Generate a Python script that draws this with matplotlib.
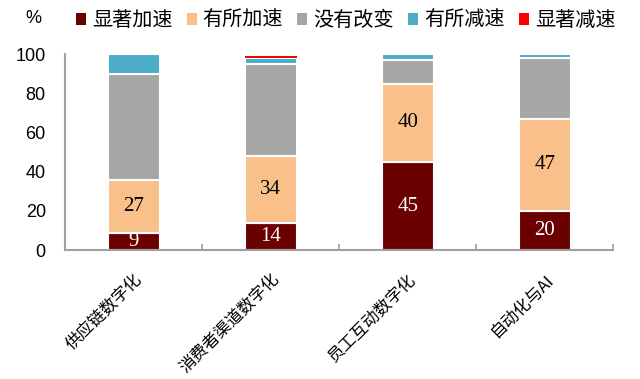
import matplotlib
matplotlib.use("Agg")
import matplotlib.pyplot as plt
from matplotlib.patches import Patch
import numpy as np

plt.rcParams['font.family'] = ['Noto Sans CJK SC', 'DejaVu Sans']

# 数据
categories = ['供应链数字化', '消费者渠道数字化', '员工互动数字化', '自动化与AI']
series_names = ['显著加速', '有所加速', '没有改变', '有所减速', '显著减速']
sig_up = [9, 14, 45, 20]
some_up = [27, 34, 40, 47]
no_change = [54, 47, 12, 31]
some_down = [10, 3, 3, 2]
sig_down = [0, 1, 0, 0]
colors = ['#6B0000', '#F9C08A', '#A6A6A6', '#4BACC6', '#FF0000']

series = [sig_up, some_up, no_change, some_down, sig_down]
labelled = {0: 'white', 1: 'black'}

fig = plt.figure(figsize=(6.4, 3.79), dpi=100)
ax = fig.add_axes([0.102, 0.34, 0.856, 0.517])

x = np.arange(len(categories))
bottom = np.zeros(len(categories))
for i, vals in enumerate(series):
    vals = np.array(vals, dtype=float)
    lw = 1.5 if i < 4 else 0
    ax.bar(x, vals, 0.38, bottom=bottom, color=colors[i],
           edgecolor='white', linewidth=lw, zorder=2 + i * 0.1)
    if i in labelled:
        for xi, b, v in zip(x, bottom, vals):
            ax.text(xi, b + v / 2, f'{int(v)}', ha='center', va='center',
                    fontsize=15, color=labelled[i], family='Liberation Serif',
                    zorder=5)
    bottom += vals

ax.set_xlim(-0.5, len(categories) - 0.5)
ax.set_ylim(0, 100)
ax.set_yticks(range(0, 101, 20))
ax.tick_params(axis='y', length=0, pad=14, labelsize=13)
for t in ax.get_yticklabels():
    t.set_family('Liberation Sans')

ax.set_xticks(x)
ax.set_xticklabels(categories, rotation=45, ha='right', rotation_mode='anchor',
                   fontsize=12)
ax.tick_params(axis='x', length=0, pad=15)
ax.set_xticks(np.arange(-0.5, len(categories)), minor=True)
ax.tick_params(axis='x', which='minor', direction='in', length=4,
               color='#A0A0A0', width=1.2)

for s in ['top', 'right']:
    ax.spines[s].set_visible(False)
for s in ['left', 'bottom']:
    ax.spines[s].set_color('#A0A0A0')
    ax.spines[s].set_linewidth(1.5)

fig.text(0.04, 0.95, '%', fontsize=13, family='Liberation Sans', va='center')

handles = [Patch(facecolor=c, edgecolor='none') for c in colors]
fig.legend(handles, series_names, loc='center', bbox_to_anchor=(0.54, 0.945),
           ncol=5, frameon=False, fontsize=14.5, handlelength=0.5,
           handleheight=0.5, handletextpad=0.3, columnspacing=0.7)

fig.savefig('out.png', dpi=100)
